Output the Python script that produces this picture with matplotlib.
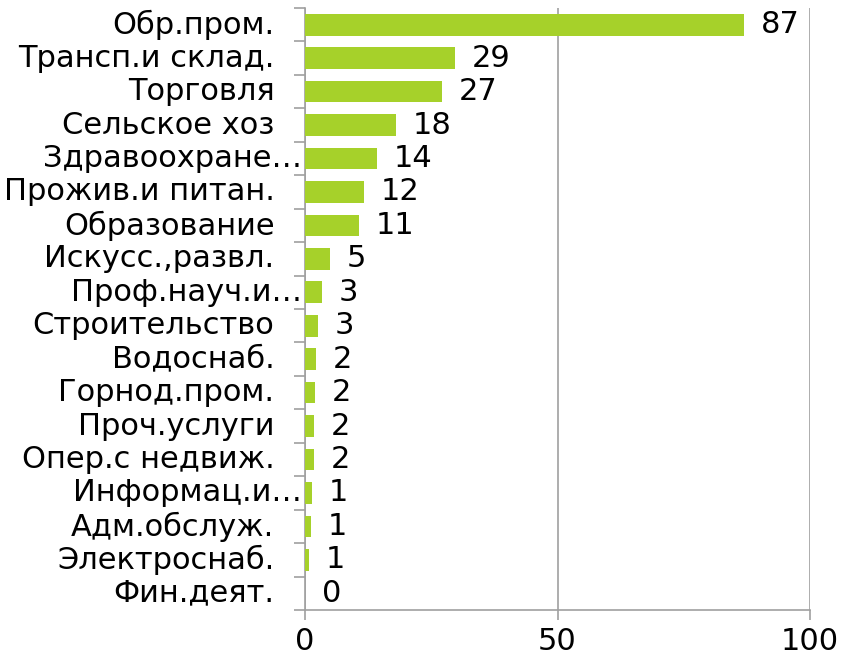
import matplotlib.pyplot as plt
import numpy as np

categories = [
    "Обр.пром.",
    "Трансп.и склад.",
    "Торговля",
    "Сельское хоз",
    "Здравоохране…",
    "Прожив.и питан.",
    "Образование",
    "Искусс.,развл.",
    "Проф.науч.и…",
    "Строительство",
    "Водоснаб.",
    "Горнод.пром.",
    "Проч.услуги",
    "Опер.с недвиж.",
    "Информац.и…",
    "Адм.обслуж.",
    "Электроснаб.",
    "Фин.деят.",
]
values = [87.0, 29.7, 27.1, 18.0, 14.3, 11.7, 10.7, 5.0, 3.4, 2.6,
          2.2, 2.0, 1.8, 1.7, 1.4, 1.2, 0.8, 0.0]
value_labels = ["87", "29", "27", "18", "14", "12", "11", "5", "3", "3",
                "2", "2", "2", "2", "1", "1", "1", "0"]

BAR_COLOR = "#a6d12a"
AXIS_COLOR = "#a0a0a0"
FONT_SIZE = 22


def main() -> None:
    plt.rcParams["font.family"] = ["DejaVu Sans"]
    fig = plt.figure(figsize=(8.45, 6.64), dpi=100)
    ax = fig.add_axes([305 / 845, 1 - 610 / 664, 505 / 845, 602 / 664])

    n = len(categories)
    y = np.arange(n)
    ax.barh(y, values, height=0.65, color=BAR_COLOR, zorder=3)

    for yi, v, lab in zip(y, values, value_labels):
        ax.annotate(lab, (v, yi), xytext=(12, 0), textcoords="offset points",
                    va="center", ha="left", fontsize=FONT_SIZE, color="black")

    # category labels: plain ones end a bit left of the axis, the truncated
    # ones (with an ellipsis) run right up to it, like the original
    for yi, cat in zip(y, categories):
        dx = -2 if cat.endswith("…") else -22
        ax.annotate(cat, (0, yi), xycoords=("axes fraction", "data"),
                    xytext=(dx, 0), textcoords="offset points",
                    va="center", ha="right", fontsize=FONT_SIZE, color="black")

    ax.set_xlim(0, 100)
    ax.set_ylim(n - 0.5, -0.5)
    ax.set_xticks([0, 50, 100])
    ax.tick_params(axis="x", length=7, width=1.2, color=AXIS_COLOR,
                   labelsize=FONT_SIZE, pad=5)
    ax.grid(axis="x", color=AXIS_COLOR, linewidth=1.2, zorder=0)

    # tick marks sit on the category boundaries
    ax.set_yticks(np.arange(n + 1) - 0.5)
    ax.set_yticklabels([])
    ax.tick_params(axis="y", length=8, width=1.2, color=AXIS_COLOR)

    for side in ["top", "right"]:
        ax.spines[side].set_visible(False)
    for side in ["left", "bottom"]:
        ax.spines[side].set_color(AXIS_COLOR)
        ax.spines[side].set_linewidth(1.2)

    fig.savefig("out.png", dpi=100)


if __name__ == "__main__":
    main()
